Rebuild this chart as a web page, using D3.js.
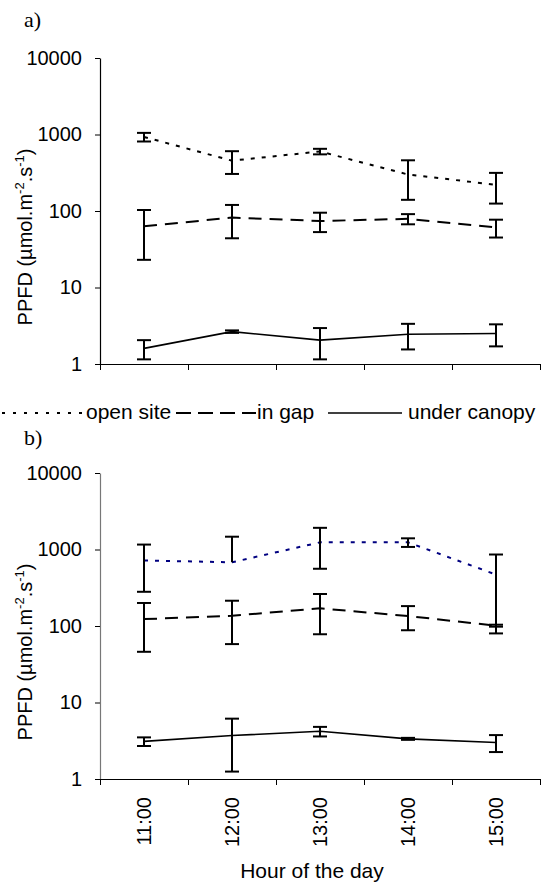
<!DOCTYPE html>
<html>
<head>
<meta charset="utf-8">
<script src="https://cdn.jsdelivr.net/npm/d3@7"></script>
<style>
  body { margin: 0; background: #fff; }
  text { font-family: "Liberation Sans", Arial, sans-serif; fill: #000; }
  .panel-label { font-family: "Liberation Serif", "Times New Roman", serif; font-size: 22px; }
</style>
</head>
<body>
<script>
// categories and axis ticks
const hours = ["11:00", "12:00", "13:00", "14:00", "15:00"];
const yTicks = [1, 10, 100, 1000, 10000];

// panel a) values (mean and error bar size)
const openA = [930, 455, 600, 300, 220];
const openErrA = [120, 150, 50, 160, 95];
const gapA = [63, 82, 74, 79, 61];
const gapErrA = [40, 38, 21, 12, 16];
const canopyA = [1.6, 2.65, 2.05, 2.45, 2.5];
const canopyErrA = [0.45, 0.1, 0.9, 0.9, 0.8];

// panel b)
const openB = [720, 680, 1240, 1240, 470];
const openErrB = [440, 790, 680, 160, 390];
const gapB = [123, 136, 170, 135, 101];
const gapErrB = [77, 78, 92, 47, 3];
const canopyB = [3.1, 3.7, 4.2, 3.35, 3.0];
const canopyErrB = [0.4, 2.45, 0.6, 0.1, 0.75];

const svg = d3.select("body").append("svg")
    .attr("width", 542)
    .attr("height", 883);

/**
 * Draws one panel: axes, three series with error bars
 */
function drawPanel(cfg) {
    let x = d3.scaleBand().domain(hours).range([100, 540]);
    let xEdge = d3.scaleLinear().domain([0, hours.length]).range([100, 540]);
    let y = d3.scaleLog().domain([1, 10000]).range([cfg.bottom, cfg.top]);

    let series = [
        {vals: cfg.open, errs: cfg.openErr, color: cfg.openColor, dash: cfg.openDash, width: 2},
        {vals: cfg.gap, errs: cfg.gapErr, color: "#000", dash: "13,8", width: 2},
        {vals: cfg.canopy, errs: cfg.canopyErr, color: "#000", dash: null, width: 1.6}
    ];

    // y axis
    let yAxis = svg.append("g")
        .attr("transform", "translate(100,0)")
        .call(d3.axisLeft(y).tickValues(yTicks).tickFormat(d3.format("d"))
            .tickSize(5).tickSizeOuter(0).tickPadding(13));
    yAxis.select(".domain").attr("stroke", cfg.yAxisColor).attr("stroke-width", 1.2);
    yAxis.selectAll(".tick line").attr("stroke", "#000");
    yAxis.selectAll("text").attr("font-size", 20).attr("font-family", "Liberation Sans, Arial, sans-serif");

    // x axis, ticks sit between the hours
    let xAxis = svg.append("g")
        .attr("transform", `translate(0,${cfg.bottom})`)
        .call(d3.axisBottom(xEdge).tickValues(d3.range(hours.length + 1))
            .tickFormat("").tickSize(6).tickSizeOuter(0));
    xAxis.select(".domain").attr("stroke", "#000").attr("stroke-width", 1.2);

    let line = d3.line()
        .x((d, i) => x(hours[i]) + x.bandwidth() / 2)
        .y(d => y(d));

    for (let s of series) {
        svg.append("path")
            .datum(s.vals)
            .attr("d", line)
            .attr("fill", "none")
            .attr("stroke", s.color)
            .attr("stroke-width", s.width)
            .attr("stroke-dasharray", s.dash);
    }

    // error bars
    for (let s of series) {
        let bars = svg.append("g").selectAll("g")
            .data(s.vals.map((v, i) => ({h: hours[i], v: v, e: s.errs[i]})))
            .enter()
            .append("g")
            .attr("transform", d => `translate(${x(d.h) + x.bandwidth() / 2},0)`)
            .attr("stroke", "#000")
            .attr("stroke-width", 2);
        bars.append("line")
            .attr("y1", d => y(d.v + d.e))
            .attr("y2", d => d.v - d.e > 0 ? y(d.v - d.e) : y(d.v));
        bars.append("line")
            .attr("x1", -7).attr("x2", 7)
            .attr("y1", d => y(d.v + d.e))
            .attr("y2", d => y(d.v + d.e));
        bars.filter(d => d.v - d.e > 0)
            .append("line")
            .attr("x1", -7).attr("x2", 7)
            .attr("y1", d => y(d.v - d.e))
            .attr("y2", d => y(d.v - d.e));
    }

    // y title
    let yt = svg.append("text")
        .attr("transform", `translate(32,${cfg.labelY}) rotate(-90)`)
        .attr("text-anchor", "middle")
        .attr("font-size", 20);
    yt.append("tspan").text("PPFD (µmol.m");
    yt.append("tspan").attr("font-size", 13).attr("dy", -8).text("-2");
    yt.append("tspan").attr("dy", 8).text(".s");
    yt.append("tspan").attr("font-size", 13).attr("dy", -8).text("-1");
    yt.append("tspan").attr("dy", 8).text(")");

    svg.append("text")
        .attr("class", "panel-label")
        .attr("x", 24)
        .attr("y", cfg.letterY)
        .text(cfg.letter);

    return x;
}

drawPanel({
    top: 58, bottom: 364, labelY: 237, letter: "a)", letterY: 27,
    open: openA, openErr: openErrA, gap: gapA, gapErr: gapErrA,
    canopy: canopyA, canopyErr: canopyErrA,
    openColor: "#000", openDash: "4,7", yAxisColor: "#000"
});

let xb = drawPanel({
    top: 473, bottom: 779, labelY: 652, letter: "b)", letterY: 445,
    open: openB, openErr: openErrB, gap: gapB, gapErr: gapErrB,
    canopy: canopyB, canopyErr: canopyErrB,
    openColor: "#000080", openDash: "4,7", yAxisColor: "#777"
});

// hour labels under panel b
svg.append("g").selectAll("text")
    .data(hours)
    .enter()
    .append("text")
    .attr("transform", d => `translate(${xb(d) + xb.bandwidth() / 2},797) rotate(-90)`)
    .attr("text-anchor", "end")
    .attr("dy", "0.35em")
    .attr("font-size", 20)
    .text(d => d);

svg.append("text")
    .attr("x", 312)
    .attr("y", 878)
    .attr("text-anchor", "middle")
    .attr("font-size", 21)
    .text("Hour of the day");

// legend between the panels
const legendItems = [
    {name: "open site", dash: "3,8", x1: 2, x2: 85, tx: 86},
    {name: "in gap", dash: "15,7", x1: 176, x2: 256, tx: 257},
    {name: "under canopy", dash: null, x1: 328, x2: 402, tx: 408}
];
let leg = svg.append("g").selectAll("g")
    .data(legendItems)
    .enter()
    .append("g");
leg.append("line")
    .attr("x1", d => d.x1).attr("x2", d => d.x2)
    .attr("y1", 413).attr("y2", 413)
    .attr("stroke", "#000")
    .attr("stroke-width", d => d.dash ? 2 : 1.5)
    .attr("stroke-dasharray", d => d.dash);
leg.append("text")
    .attr("x", d => d.tx)
    .attr("y", 419)
    .attr("font-size", 21)
    .text(d => d.name);
</script>
</body>
</html>
